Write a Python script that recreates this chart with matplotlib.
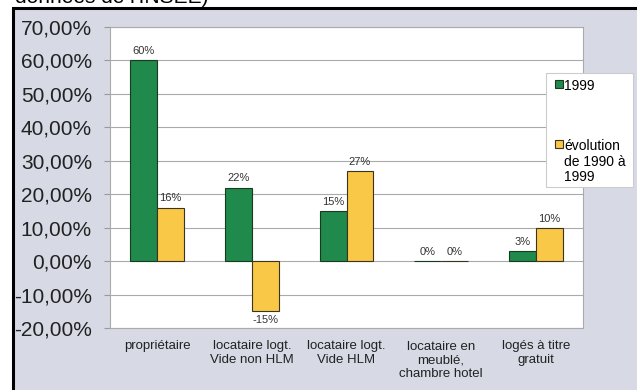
import matplotlib.pyplot as plt
import matplotlib.patches as mpatches
import numpy as np

plt.rcParams['font.family'] = ['Liberation Sans', 'DejaVu Sans']

categories = ["propriétaire", "locataire logt.\nVide non HLM", "locataire logt.\nVide HLM",
              "locataire en\nmeublé,\nchambre hotel", "logés à titre\ngratuit"]
val_1999 = [60, 22, 15, 0, 3]
val_evol = [16, -15, 27, 0, 10]
series_names = ["1999", "évolution\nde 1990 à\n1999"]
yticks = [-20, -10, 0, 10, 20, 30, 40, 50, 60, 70]

green = '#1f8a4c'
yellow = '#f9c846'
W, H = 637, 390

fig = plt.figure(figsize=(6.37, 3.90), dpi=100)
fig.patch.set_facecolor('white')

# grey-blue panel with black frame on top and left
panel = mpatches.Rectangle((13/W, -0.1), 1, 1.1 - 8/H, transform=fig.transFigure,
                           facecolor='#d7dae5', edgecolor='black', linewidth=2.2, zorder=-10)
fig.patches.append(panel)
fig.text(15/W, 1 - 3/H, "données de l'INSEE)", fontsize=15, va='baseline', ha='left')

ax = fig.add_axes([110/W, 1 - 328/H, (583 - 110)/W, (328 - 27)/H])
ax.set_zorder(1)
ax.set_facecolor('white')

x = np.arange(len(categories))
width = 0.285
b1 = ax.bar(x - width/2, val_1999, width, color=green, edgecolor='#1a3a20', linewidth=0.8, zorder=3)
b2 = ax.bar(x + width/2, val_evol, width, color=yellow, edgecolor='#3a3520', linewidth=0.8, zorder=3)

ax.bar_label(b1, labels=[f"{v}%" for v in val_1999], padding=3, fontsize=8, color='#333333')
ax.bar_label(b2, labels=[f"{v}%" for v in val_evol], padding=3, fontsize=8, color='#333333')

ax.set_xlim(-0.5, len(categories) - 0.5)
ax.set_ylim(-20, 70)
ax.set_yticks(yticks)
ax.set_yticklabels([f"{v},00%" for v in yticks], fontsize=15, color='#222222')
ax.set_xticks(x)
ax.set_xticklabels(categories, fontsize=9.5, color='#222222', linespacing=1.2)
ax.tick_params(axis='y', length=4, color='#999999', pad=9)
ax.tick_params(axis='x', length=0, pad=9)
ax.grid(axis='y', color='#aaaaaa', linewidth=0.8, zorder=0)
for s in ['top', 'right', 'left', 'bottom']:
    ax.spines[s].set_color('#aaaaaa')
    ax.spines[s].set_linewidth(0.8)

# legend box drawn by hand (text left aligned, marker on first line)
fig.patches.append(mpatches.Rectangle((546/W, 1 - 187/H), 87/W, 114/H, transform=fig.transFigure,
                                      facecolor='white', edgecolor='#cccccc', linewidth=0.8, zorder=5))
for col, ec, ytop, lab in [(green, '#1a3a20', 80, series_names[0]), (yellow, '#3a3520', 140, series_names[1])]:
    fig.patches.append(mpatches.Rectangle((555/W, 1 - (ytop + 8)/H), 8/W, 8/H, transform=fig.transFigure,
                                          facecolor=col, edgecolor=ec, linewidth=0.8, zorder=6))
    fig.text(564/W, 1 - (ytop - 1)/H, lab, fontsize=10, va='top', ha='left', linespacing=1.15, zorder=6)

plt.savefig("out.png", dpi=100)
